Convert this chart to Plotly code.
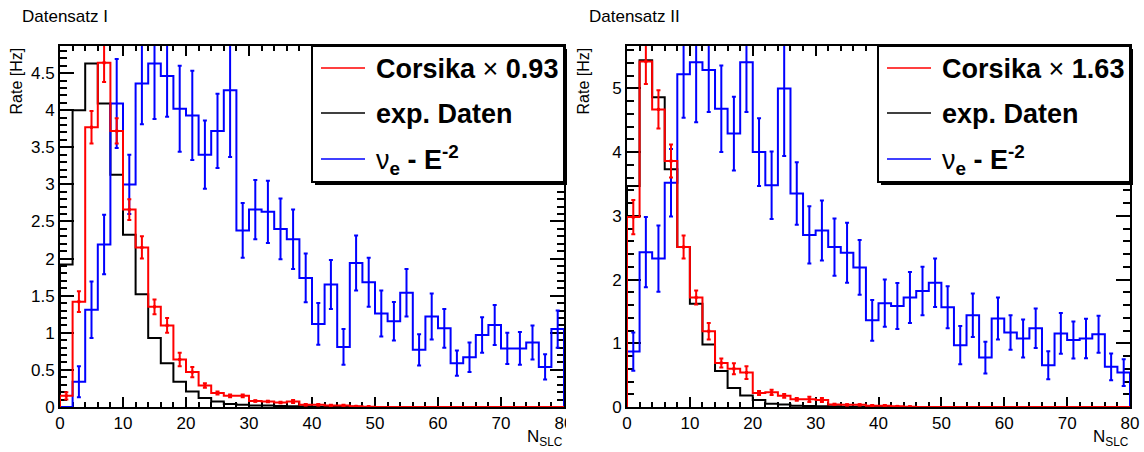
import plotly.graph_objects as go

# ---- binning: 40 bins of width 2 in N_SLC ----
BIN_WIDTH = 2
N_BINS = 40
edges = [i * BIN_WIDTH for i in range(N_BINS + 1)]
centers = [e + BIN_WIDTH / 2 for e in edges[:-1]]

# ---- Datensatz I ----
exp_I = [1.92, 4.00, 4.63, 4.09, 3.13, 2.32, 1.52, 0.93, 0.59, 0.34,
         0.21, 0.12, 0.075, 0.04, 0.03, 0.02, 0.02, 0.015, 0.01, 0.01,
         0.005, 0.005, 0.004, 0.003, 0.0, 0.0, 0.0, 0.0, 0.0, 0.0,
         0.0, 0.0, 0.0, 0.0, 0.0, 0.0, 0.0, 0.0, 0.0, 0.0]
cors_I = [0.15, 1.42, 3.77, 4.64, 3.72, 2.66, 2.15, 1.35, 1.10, 0.64,
          0.47, 0.29, 0.19, 0.15, 0.15, 0.08, 0.075, 0.06, 0.075, 0.03,
          0.03, 0.02, 0.02, 0.01, 0.005, 0.0, 0.0, 0.0, 0.0, 0.0,
          0.0, 0.0, 0.0, 0.0, 0.0, 0.0, 0.0, 0.0, 0.0, 0.0]
cors_I_err = [0.05, 0.14, 0.22, 0.26, 0.17, 0.14, 0.15, 0.10, 0.10, 0.09,
              0.07, 0.03, 0.02, 0.02, 0.02, 0.01, 0.01, 0.01, 0.02, 0.01,
              0.01, 0.01, 0.01, 0.005, 0.005, 0.0, 0.0, 0.0, 0.0, 0.0,
              0.0, 0.0, 0.0, 0.0, 0.0, 0.0, 0.0, 0.0, 0.0, 0.0]
nue_I = [0.0, 0.34, 1.31, 2.19, 4.09, 3.00, 4.36, 4.63, 4.46, 4.02,
         3.93, 3.40, 3.72, 4.27, 2.38, 2.66, 2.63, 2.40, 2.26, 1.74,
         1.12, 1.65, 0.81, 1.94, 1.68, 1.26, 1.155, 1.54, 0.77, 1.22,
         1.06, 0.59, 0.67, 0.97, 1.105, 0.79, 0.79, 0.87, 0.54, 1.05]
nue_I_err = [0.0, 0.21, 0.38, 0.40, 0.60, 0.40, 0.55, 0.75, 0.55, 0.58,
             0.60, 0.46, 0.50, 0.90, 0.37, 0.40, 0.42, 0.41, 0.40, 0.33,
             0.28, 0.33, 0.24, 0.37, 0.33, 0.31, 0.26, 0.32, 0.21, 0.31,
             0.26, 0.17, 0.20, 0.24, 0.27, 0.21, 0.22, 0.23, 0.17, 0.25]

# ---- Datensatz II ----
exp_II = [3.47, 5.44, 4.86, 3.73, 2.51, 1.62, 0.98, 0.565, 0.30, 0.18,
          0.11, 0.05, 0.04, 0.02, 0.015, 0.01, 0.01, 0.005, 0.005, 0.0,
          0.0, 0.0, 0.0, 0.0, 0.0, 0.0, 0.0, 0.0, 0.0, 0.0,
          0.0, 0.0, 0.0, 0.0, 0.0, 0.0, 0.0, 0.0, 0.0, 0.0]
cors_II = [2.98, 5.42, 4.67, 3.86, 2.51, 1.72, 1.19, 0.69, 0.60, 0.54,
           0.22, 0.23, 0.175, 0.12, 0.12, 0.11, 0.04, 0.035, 0.035, 0.02,
           0.02, 0.01, 0.005, 0.0, 0.0, 0.0, 0.0, 0.0, 0.0, 0.0,
           0.0, 0.0, 0.0, 0.0, 0.0, 0.0, 0.0, 0.0, 0.0, 0.0]
cors_II_err = [0.27, 0.35, 0.30, 0.26, 0.18, 0.11, 0.13, 0.07, 0.085, 0.10,
               0.03, 0.04, 0.03, 0.02, 0.04, 0.03, 0.01, 0.01, 0.01, 0.01,
               0.01, 0.005, 0.005, 0.0, 0.0, 0.0, 0.0, 0.0, 0.0, 0.0,
               0.0, 0.0, 0.0, 0.0, 0.0, 0.0, 0.0, 0.0, 0.0, 0.0]
nue_II = [0.87, 2.43, 2.33, 3.52, 5.22, 5.41, 5.29, 4.68, 4.29, 5.41,
          4.00, 3.48, 5.00, 3.35, 2.70, 2.77, 2.51, 2.42, 2.19, 1.36,
          1.63, 1.585, 1.72, 1.82, 1.95, 1.565, 0.97, 1.44, 0.775, 1.39,
          1.17, 1.075, 1.235, 0.655, 1.155, 1.05, 1.075, 1.14, 0.63, 0.54]
nue_II_err = [0.30, 0.55, 0.52, 0.53, 0.68, 0.94, 0.66, 0.68, 0.58, 0.78,
              0.53, 0.53, 1.06, 0.49, 0.45, 0.47, 0.45, 0.47, 0.43, 0.32,
              0.37, 0.36, 0.40, 0.38, 0.38, 0.33, 0.30, 0.34, 0.25, 0.33,
              0.27, 0.30, 0.31, 0.22, 0.32, 0.29, 0.31, 0.29, 0.21, 0.21]

panels = [
    dict(title="Datensatz I", scale="0.93", exp=exp_I, cors=cors_I, cors_err=cors_I_err,
         nue=nue_I, nue_err=nue_I_err, ymax=4.865, dtick=0.5, minor=0.1,
         x0=60, x1=564),
    dict(title="Datensatz II", scale="1.63", exp=exp_II, cors=cors_II, cors_err=cors_II_err,
         nue=nue_II, nue_err=nue_II_err, ymax=5.665, dtick=1, minor=0.2,
         x0=627, x1=1130),
]

W, H = 1144, 452
TOP, BOTTOM = 46, 407
RED, BLACK, BLUE = "#ff0000", "#000000", "#0000ff"
FONT = "Liberation Sans, Arial, Helvetica, sans-serif"


def px(x):
    return x / W


def py(y):
    return 1 - y / H


def step_xy(vals):
    x = [edges[0]] + edges[:-1] + [edges[-1], edges[-1]]
    y = [0] + list(vals) + [vals[-1], 0]
    return x, y


fig = go.Figure()
shapes, annotations = [], []

for i, p in enumerate(panels):
    xa = "x" if i == 0 else "x2"
    ya = "y" if i == 0 else "y2"

    # experimental data: plain outline
    sx, sy = step_xy(p["exp"])
    fig.add_trace(go.Scatter(x=sx, y=sy, mode="lines", line=dict(color=BLACK, width=2, shape="hv"),
                             xaxis=xa, yaxis=ya, showlegend=False, hoverinfo="skip"))

    # nu_e E^-2 signal: outline plus error bars
    sx, sy = step_xy(p["nue"])
    fig.add_trace(go.Scatter(x=sx, y=sy, mode="lines", line=dict(color=BLUE, width=2, shape="hv"),
                             xaxis=xa, yaxis=ya, showlegend=False, hoverinfo="skip"))
    fig.add_trace(go.Scatter(
        x=centers, y=[v if v > 0 else None for v in p["nue"]], mode="markers",
        marker=dict(size=2, color=BLUE),
        error_y=dict(type="data", array=p["nue_err"], color=BLUE, thickness=2, width=2),
        xaxis=xa, yaxis=ya, showlegend=False, hoverinfo="skip"))

    # scaled Corsika simulation: outline plus error bars
    sx, sy = step_xy(p["cors"])
    fig.add_trace(go.Scatter(x=sx, y=sy, mode="lines", line=dict(color=RED, width=2, shape="hv"),
                             xaxis=xa, yaxis=ya, showlegend=False, hoverinfo="skip"))
    fig.add_trace(go.Scatter(
        x=centers, y=[v if v > 0 else None for v in p["cors"]], mode="markers",
        marker=dict(size=3, symbol="square", color=RED),
        error_y=dict(type="data", array=p["cors_err"], color=RED, thickness=2, width=2),
        xaxis=xa, yaxis=ya, showlegend=False, hoverinfo="skip"))

    xkey = "xaxis" if i == 0 else "xaxis2"
    ykey = "yaxis" if i == 0 else "yaxis2"
    fig.update_layout(**{
        xkey: dict(domain=[px(p["x0"]), px(p["x1"])], range=[0, 80], anchor=ya,
                   tick0=0, dtick=10, ticks="inside", ticklen=10, tickwidth=2, tickcolor=BLACK,
                   minor=dict(dtick=2, ticks="inside", ticklen=5, tickwidth=2, tickcolor=BLACK),
                   showline=True, linewidth=2, linecolor=BLACK, mirror="allticks",
                   showgrid=False, zeroline=False, layer="below traces", automargin=False,
                   tickfont=dict(family=FONT, size=17, color=BLACK)),
        ykey: dict(domain=[py(BOTTOM), py(TOP)], range=[0, p["ymax"]], anchor=xa,
                   tick0=0, dtick=p["dtick"], ticks="inside", ticklen=14, tickwidth=2, tickcolor=BLACK,
                   minor=dict(dtick=p["minor"], ticks="inside", ticklen=7, tickwidth=2, tickcolor=BLACK),
                   showline=True, linewidth=2, linecolor=BLACK, mirror="allticks",
                   showgrid=False, zeroline=False, layer="below traces", automargin=False,
                   tickfont=dict(family=FONT, size=17, color=BLACK)),
    })

    x0, x1 = p["x0"], p["x1"]

    # pad title
    annotations.append(dict(text=p["title"], x=px(x0 - 40), y=py(16), xref="paper", yref="paper",
                            xanchor="left", yanchor="middle", showarrow=False,
                            font=dict(family=FONT, size=17, color=BLACK)))
    # axis titles
    annotations.append(dict(text="Rate [Hz]", x=px(x0 - 44), y=py(TOP), xref="paper", yref="paper",
                            xanchor="center", yanchor="top", textangle=-90, showarrow=False,
                            font=dict(family=FONT, size=16, color=BLACK)))
    annotations.append(dict(text="N<sub>SLC</sub>", x=px(x1 + 1), y=py(438), xref="paper", yref="paper",
                            xanchor="right", yanchor="middle", showarrow=False,
                            font=dict(family=FONT, size=17, color=BLACK)))

    # legend box with drop shadow
    lx0 = x1 - 252
    ly1 = 182
    shapes.append(dict(type="rect", xref="paper", yref="paper", layer="above",
                       x0=px(lx0 + 3), x1=px(x1 + 3), y0=py(ly1 + 3), y1=py(TOP + 3),
                       fillcolor=BLACK, line=dict(width=0)))
    shapes.append(dict(type="rect", xref="paper", yref="paper", layer="above",
                       x0=px(lx0), x1=px(x1), y0=py(ly1), y1=py(TOP),
                       fillcolor="white", line=dict(color=BLACK, width=2)))
    rows = [
        (68, RED, "<b>Corsika</b> × <b>" + p["scale"] + "</b>"),
        (113, BLACK, "<b>exp. Daten</b>"),
        (159, BLUE, "ν<b><sub>e</sub> - E<sup>-2</sup></b>"),
    ]
    for ry, col, txt in rows:
        shapes.append(dict(type="line", xref="paper", yref="paper", layer="above",
                           x0=px(lx0 + 9), x1=px(lx0 + 53), y0=py(ry), y1=py(ry),
                           line=dict(color=col, width=1.5)))
        annotations.append(dict(text=txt, x=px(lx0 + 62), y=py(ry + 1), xref="paper", yref="paper",
                                xanchor="left", yanchor="middle", showarrow=False,
                                font=dict(family=FONT, size=27, color=BLACK)))

# the left pad ends right after the frame, cutting its last x label
shapes.append(dict(type="rect", xref="paper", yref="paper", layer="above",
                   x0=px(566), x1=px(576), y0=py(432), y1=py(409),
                   fillcolor="white", line=dict(width=0)))

fig.update_layout(
    width=W, height=H, autosize=False,
    margin=dict(l=0, r=0, t=0, b=0, pad=0, autoexpand=False),
    paper_bgcolor="white", plot_bgcolor="white",
    showlegend=False,
    shapes=shapes, annotations=annotations,
    font=dict(family=FONT, color=BLACK),
)

fig.write_html("out.html")
